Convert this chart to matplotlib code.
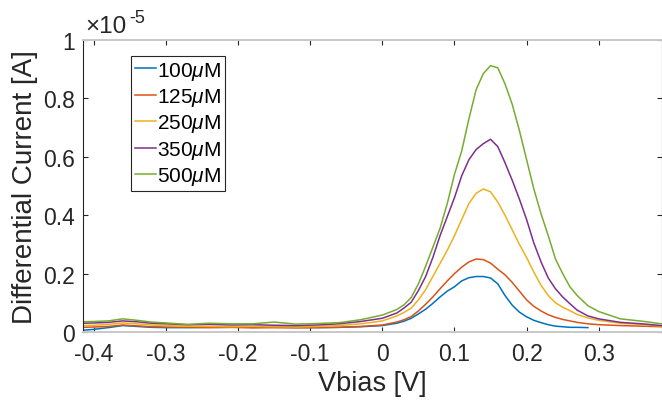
import numpy as np
import matplotlib
matplotlib.use("Agg")
import matplotlib.pyplot as plt
from matplotlib.ticker import FuncFormatter

plt.rcParams['font.family'] = ['Liberation Sans', 'DejaVu Sans']
plt.rcParams['mathtext.fontset'] = 'custom'
plt.rcParams['mathtext.rm'] = 'Liberation Sans'
plt.rcParams['mathtext.it'] = 'Liberation Sans:italic'
plt.rcParams['axes.unicode_minus'] = False

# Bias voltage grid [V]
vbias = [-0.415, -0.40, -0.38, -0.36, -0.34, -0.32, -0.30, -0.27, -0.24, -0.21,
         -0.18, -0.15, -0.12, -0.09, -0.06, -0.03, 0.0, 0.02, 0.03, 0.04,
         0.05, 0.06, 0.07, 0.08, 0.09, 0.10, 0.11, 0.12, 0.13, 0.14,
         0.15, 0.16, 0.17, 0.18, 0.19, 0.20, 0.21, 0.22, 0.23, 0.24,
         0.25, 0.26, 0.27, 0.285, 0.30, 0.33, 0.36, 0.387]

# Differential current in units of 1e-5 A
i_100 = [0.006, 0.009, 0.015, 0.022, 0.019, 0.016, 0.015, 0.015, 0.016, 0.016,
         0.017, 0.016, 0.016, 0.015, 0.016, 0.018, 0.022, 0.030, 0.037, 0.047,
         0.062, 0.078, 0.098, 0.120, 0.140, 0.155, 0.175, 0.186, 0.190, 0.190,
         0.185, 0.165, 0.125, 0.092, 0.068, 0.052, 0.040, 0.032, 0.025, 0.020,
         0.018, 0.016, 0.016, 0.015, np.nan, np.nan, np.nan, np.nan]
i_125 = [0.016, 0.017, 0.019, 0.024, 0.021, 0.018, 0.017, 0.016, 0.015, 0.016,
         0.014, 0.015, 0.014, 0.015, 0.016, 0.019, 0.024, 0.034, 0.042, 0.053,
         0.072, 0.095, 0.120, 0.148, 0.175, 0.200, 0.222, 0.240, 0.250, 0.248,
         0.236, 0.215, 0.196, 0.170, 0.140, 0.110, 0.088, 0.072, 0.059, 0.050,
         0.043, 0.038, 0.033, 0.028, 0.025, 0.022, 0.020, 0.018]
i_250 = [0.022, 0.023, 0.026, 0.031, 0.028, 0.024, 0.022, 0.020, 0.019, 0.018,
         0.019, 0.018, 0.017, 0.019, 0.022, 0.028, 0.038, 0.055, 0.067, 0.082,
         0.110, 0.145, 0.190, 0.235, 0.280, 0.330, 0.385, 0.440, 0.475, 0.490,
         0.480, 0.445, 0.400, 0.350, 0.300, 0.255, 0.205, 0.160, 0.125, 0.100,
         0.085, 0.073, 0.060, 0.048, 0.040, 0.030, 0.026, 0.020]
i_350 = [0.030, 0.031, 0.033, 0.038, 0.035, 0.030, 0.028, 0.025, 0.026, 0.024,
         0.025, 0.023, 0.022, 0.024, 0.028, 0.036, 0.047, 0.065, 0.082, 0.102,
         0.142, 0.190, 0.255, 0.330, 0.395, 0.460, 0.535, 0.590, 0.625, 0.645,
         0.660, 0.635, 0.580, 0.520, 0.455, 0.385, 0.305, 0.240, 0.185, 0.148,
         0.120, 0.097, 0.075, 0.055, 0.045, 0.033, 0.028, 0.022]
i_500 = [0.035, 0.036, 0.038, 0.045, 0.040, 0.034, 0.031, 0.026, 0.030, 0.028,
         0.028, 0.034, 0.027, 0.029, 0.032, 0.042, 0.058, 0.077, 0.093, 0.118,
         0.165, 0.225, 0.290, 0.355, 0.440, 0.540, 0.620, 0.730, 0.830, 0.885,
         0.912, 0.905, 0.850, 0.780, 0.690, 0.590, 0.490, 0.405, 0.330, 0.250,
         0.200, 0.155, 0.125, 0.090, 0.070, 0.045, 0.037, 0.028]

series = [i_100, i_125, i_250, i_350, i_500]
labels = ['100$\\mu$M', '125$\\mu$M', '250$\\mu$M', '350$\\mu$M', '500$\\mu$M']
colors = ['#0072BD', '#D95319', '#EDB120', '#7E2F8E', '#77AC30']
xticks = [-0.4, -0.3, -0.2, -0.1, 0, 0.1, 0.2, 0.3]
yticks = [0, 0.2, 0.4, 0.6, 0.8, 1.0]

W, H = 662, 402
fig = plt.figure(figsize=(W / 100, H / 100), dpi=100)
L, R, T, B = 83, 661.5, 41, 333
ax = fig.add_axes([L / W, 1 - B / H, (R - L) / W, (B - T) / H])

for y, lab, c in zip(series, labels, colors):
    ax.plot(vbias, y, color=c, lw=1.1, label=lab)

ax.set_xlim(-0.415, 0.387)
ax.set_ylim(0, 1)
ax.set_xticks(xticks)
ax.set_yticks(yticks)
fmt = FuncFormatter(lambda v, p: '%g' % round(v, 3))
ax.xaxis.set_major_formatter(fmt)
ax.yaxis.set_major_formatter(fmt)
ax.tick_params(direction='in', length=3.6, width=0.8, colors='#262626',
               labelsize=16.5, top=True, right=True, labelcolor='#262626')
ax.tick_params(axis='x', pad=7)
ax.tick_params(axis='y', pad=5.5)
for s in ['left', 'right']:
    ax.spines[s].set_color('#262626')
    ax.spines[s].set_linewidth(0.8)
for s in ['top', 'bottom']:
    ax.spines[s].set_color('#c8c8c8')
    ax.spines[s].set_linewidth(1.4)

ax.set_xlabel('Vbias [V]', fontsize=19.5, color='#262626', labelpad=4)
ax.set_ylabel('Differential Current [A]', fontsize=20, color='#262626', labelpad=4)

leg = ax.legend(loc='upper left', bbox_to_anchor=((131 - L) / (R - L), (B - 57) / (B - T)),
                fontsize=15, handlelength=1.0, handletextpad=0.06, borderpad=0.18,
                labelspacing=0.21, borderaxespad=0, fancybox=False, framealpha=1)
leg.get_frame().set_edgecolor('#262626')
leg.get_frame().set_linewidth(0.8)

fig.text(85 / W, 1 - 33 / H, '\u00d710', fontsize=17.5, color='#262626', va='baseline', ha='left')
fig.text(129 / W, 1 - 23 / H, '-5', fontsize=13, color='#262626', va='baseline', ha='left')

fig.savefig('out.png', dpi=100)
